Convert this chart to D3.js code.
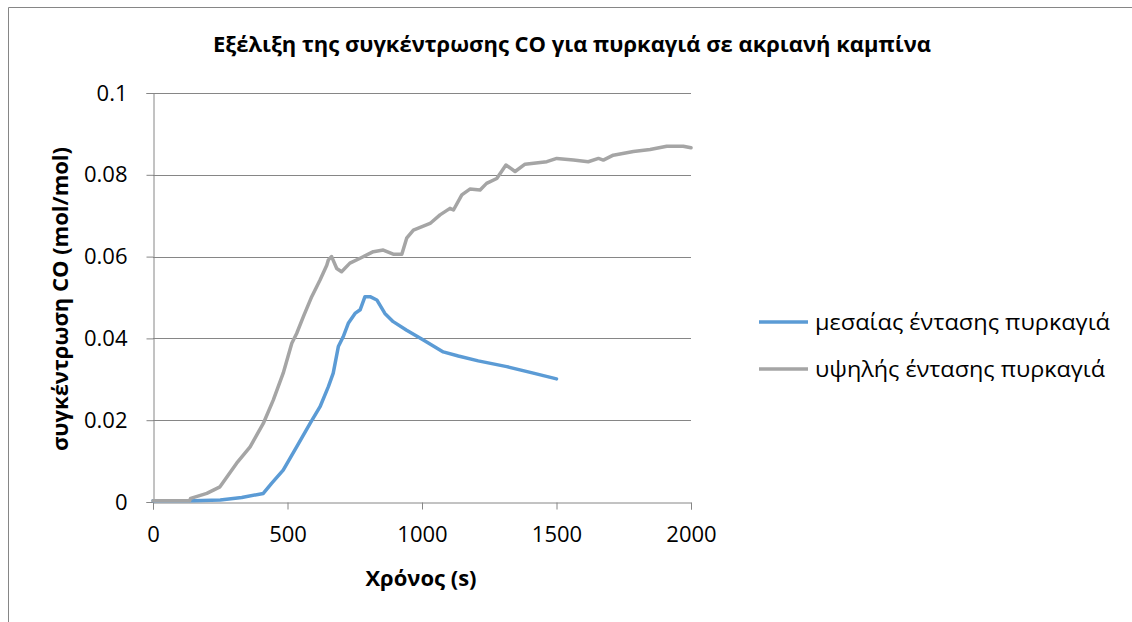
<!DOCTYPE html>
<html>
<head>
<meta charset="utf-8">
<script src="https://cdn.jsdelivr.net/npm/d3@7/dist/d3.min.js"></script>
<style>
  html, body { margin: 0; padding: 0; background: #fff; }
  svg { display: block; }
  text { font-family: "Open Sans", "Noto Sans", sans-serif; fill: #000; }
</style>
</head>
<body>
<svg id="chart" width="1132" height="622"></svg>
<script>
// CO concentration over time, two fire intensities
const chartTitle = "Εξέλιξη της συγκέντρωσης CO για πυρκαγιά σε ακριανή καμπίνα";
const xTitle = "Χρόνος (s)";
const yTitle = "συγκέντρωση CO (mol/mol)";
const seriesNames = ["μεσαίας έντασης πυρκαγιά", "υψηλής έντασης πυρκαγιά"];
const seriesColors = ["#5B9BD5", "#A5A5A5"];

const xTicks = [0, 500, 1000, 1500, 2000];
const yTicks = [0, 0.02, 0.04, 0.06, 0.08, 0.1];
const yTickLabels = ["0", "0.02", "0.04", "0.06", "0.08", "0.1"];

// medium-intensity fire
const timeMedium = [0, 150, 250, 330, 410, 440, 484, 534, 584, 621, 652, 670, 689, 707, 726, 751, 770, 788, 807, 832, 862, 893, 943, 1005, 1079, 1135, 1209, 1315, 1414, 1500];
const coMedium = [0.0003, 0.0003, 0.0005, 0.0011, 0.0021, 0.0045, 0.0078, 0.0135, 0.0192, 0.0233, 0.0282, 0.0315, 0.038, 0.0404, 0.0437, 0.0461, 0.047, 0.0502, 0.0502, 0.0494, 0.0461, 0.0441, 0.042, 0.0396, 0.0367, 0.0357, 0.0345, 0.0331, 0.0315, 0.0301];

// high-intensity fire
const timeHigh = [0, 136, 140, 200, 249, 311, 361, 410, 447, 484, 516, 534, 559, 590, 621, 646, 652, 664, 683, 701, 732, 770, 819, 856, 893, 925, 943, 968, 1030, 1067, 1104, 1117, 1148, 1178, 1216, 1240, 1278, 1312, 1346, 1383, 1464, 1501, 1563, 1618, 1656, 1674, 1711, 1786, 1848, 1910, 1971, 2000];
const coHigh = [0.0003, 0.0003, 0.0009, 0.0021, 0.0037, 0.0095, 0.0135, 0.0192, 0.0249, 0.0315, 0.0388, 0.0412, 0.0453, 0.0502, 0.0543, 0.0579, 0.0592, 0.06, 0.0571, 0.0563, 0.0584, 0.0596, 0.0612, 0.0616, 0.0606, 0.0606, 0.0645, 0.0665, 0.0681, 0.0702, 0.0718, 0.0714, 0.0751, 0.0765, 0.0763, 0.0779, 0.0791, 0.0824, 0.0808, 0.0826, 0.0832, 0.084, 0.0836, 0.0832, 0.084, 0.0836, 0.0848, 0.0857, 0.0862, 0.087, 0.087, 0.0866];

const series = [
  { name: seriesNames[0], color: seriesColors[0], pts: timeMedium.map((t, i) => [t, coMedium[i]]) },
  { name: seriesNames[1], color: seriesColors[1], pts: timeHigh.map((t, i) => [t, coHigh[i]]) }
];

const svg = d3.select("#chart");
const axisColor = "#868686";
const labelFont = "'Open Sans', sans-serif";

// outer chart frame (top and left edges visible)
svg.append("line").attr("x1", 8.5).attr("y1", 7.5).attr("x2", 1132).attr("y2", 7.5)
  .attr("stroke", axisColor).attr("stroke-width", 1);
svg.append("line").attr("x1", 8.5).attr("y1", 7.5).attr("x2", 8.5).attr("y2", 622)
  .attr("stroke", axisColor).attr("stroke-width", 1);

const plot = { left: 153, right: 691, top: 93, bottom: 502 };
const x = d3.scaleLinear().domain([0, 2000]).range([plot.left, plot.right]);
const y = d3.scaleLinear().domain([0, 0.1]).range([plot.bottom, plot.top]);

// horizontal gridlines
svg.append("g").selectAll("line").data(yTicks.filter(d => d > 0)).join("line")
  .attr("x1", plot.left).attr("x2", plot.right)
  .attr("y1", d => Math.round(y(d)) + 0.5).attr("y2", d => Math.round(y(d)) + 0.5)
  .attr("stroke", axisColor).attr("stroke-width", 1);

// x axis
const xAxis = d3.axisBottom(x).tickValues(xTicks).tickSize(7).tickPadding(17).tickFormat(d3.format("d"));
const gx = svg.append("g").attr("transform", `translate(0,${plot.bottom + 0.5})`).call(xAxis);
gx.select(".domain").attr("stroke", axisColor);
gx.selectAll(".tick line").attr("stroke", axisColor);
gx.selectAll(".tick text").attr("font-size", 22).attr("font-family", labelFont).attr("fill", "#000");

// y axis
const yAxis = d3.axisLeft(y).tickValues(yTicks).tickSize(7).tickPadding(19)
  .tickFormat((d, i) => yTickLabels[i]);
const gy = svg.append("g").attr("transform", `translate(${plot.left + 0.5},0)`).call(yAxis);
gy.select(".domain").attr("stroke", axisColor);
gy.selectAll(".tick line").attr("stroke", axisColor);
gy.selectAll(".tick text").attr("font-size", 22).attr("font-family", labelFont).attr("fill", "#000");

// data lines
const line = d3.line().x(d => x(d[0])).y(d => y(d[1])).curve(d3.curveLinear);
svg.append("g").selectAll("path").data(series).join("path")
  .attr("d", d => line(d.pts))
  .attr("fill", "none")
  .attr("stroke", d => d.color)
  .attr("stroke-width", 3.5)
  .attr("stroke-linejoin", "round")
  .attr("stroke-linecap", "round");

// title
svg.append("text").attr("x", 572).attr("y", 52).attr("text-anchor", "middle")
  .attr("font-size", 21).attr("font-weight", "bold")
  .attr("textLength", 718).attr("lengthAdjust", "spacingAndGlyphs").text(chartTitle);

// axis titles
svg.append("text").attr("x", 421).attr("y", 586).attr("text-anchor", "middle")
  .attr("font-size", 22).attr("font-weight", "bold").text(xTitle);
svg.append("text").attr("transform", `translate(68,299) rotate(-90)`).attr("text-anchor", "middle")
  .attr("font-size", 22).attr("font-weight", "bold").text(yTitle);

// legend
const legendTextWidths = [295, 290];
const legend = svg.append("g").selectAll("g").data(series).join("g")
  .attr("transform", (d, i) => `translate(759,${322 + i * 47})`);
legend.append("line").attr("x1", 0).attr("x2", 49).attr("y1", 0).attr("y2", 0)
  .attr("stroke", d => d.color).attr("stroke-width", 3.5);
legend.append("text").attr("x", 56).attr("y", 8).attr("font-size", 22.5)
  .attr("textLength", (d, i) => legendTextWidths[i]).attr("lengthAdjust", "spacingAndGlyphs")
  .text(d => d.name);
</script>
</body>
</html>
